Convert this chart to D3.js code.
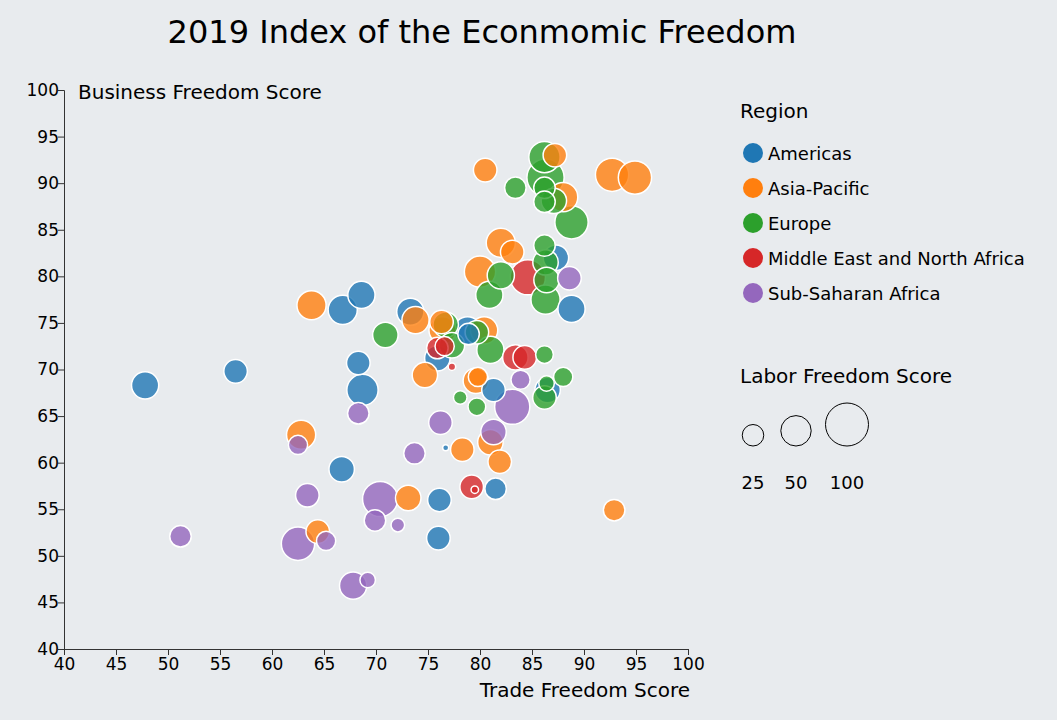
<!DOCTYPE html>
<html><head><meta charset="utf-8">
<script src="https://cdn.jsdelivr.net/npm/d3@7"></script>
<style>
body{margin:0;background:#e8ebee;font-family:"DejaVu Sans",Verdana,sans-serif;}
</style></head><body>
<svg id="chart" width="1057" height="720"></svg>
<script>
var regions = ["Americas","Asia-Pacific","Europe","Middle East and North Africa","Sub-Saharan Africa"];
// [trade, business, labor]
var americas = [[47.8,68.3,40],[56.5,69.8,30],[66.7,59.3,35],[68.6,78.0,40],[66.8,76.4,46],[68.3,70.7,30],[68.7,67.8,53],[73.3,76.2,40],[75.9,71.2,35],[76.1,56.0,30],[76.0,51.9,30],[76.7,61.6,2],[78.8,74.2,40],[78.9,73.8,25],[81.5,57.2,25],[81.3,67.8,30],[87.3,82.0,35],[88.8,76.5,40],[86.5,67.8,35]];
var asiaPacific = [[63.8,76.9,46],[62.8,63.0,46],[64.4,52.6,30],[73.1,56.2,35],[73.8,75.3,40],[74.7,69.4,35],[76.4,74.2,40],[76.3,75.1,30],[78.3,61.4,30],[79.6,68.8,35],[80.5,91.4,30],[81.0,62.2,35],[81.9,60.1,30],[82.0,83.6,46],[80.0,80.5,53],[83.1,82.6,30],[80.4,74.2,40],[79.8,69.2,20],[87.2,93.0,30],[88.0,88.5,46],[92.7,90.9,60],[94.9,90.6,60],[92.9,54.9,25]];
var europe = [[70.9,73.7,35],[76.7,74.8,35],[77.3,72.6,35],[78.1,67.0,10],[79.7,66.0,17],[81.0,72.1,40],[80.9,78.0,40],[79.7,74.0,30],[83.4,89.5,25],[86.2,92.8,53],[86.3,90.6,75],[86.2,89.5,25],[87.1,88.1,35],[86.2,88.0,25],[88.8,85.8,60],[86.2,83.3,25],[86.3,81.5,35],[86.4,79.6,35],[86.3,77.5,46],[82.0,80.1,40],[86.2,71.6,17],[88.0,69.2,20],[86.2,67.0,30],[86.4,68.5,13]];
var mena = [[75.9,72.3,25],[76.6,72.5,20],[77.3,70.3,3],[83.4,71.3,35],[84.3,71.3,30],[84.6,79.9,67],[79.2,57.4,30],[79.5,57.1,3]];
var subSaharan = [[51.2,52.1,25],[62.5,61.9,20],[63.4,56.5,30],[62.5,51.3,60],[65.2,51.6,20],[67.8,46.8,40],[69.2,47.4,13],[68.3,65.3,25],[69.9,53.8,25],[72.1,53.3,10],[70.4,56.1,67],[73.7,61.0,25],[76.2,64.3,30],[81.3,63.3,35],[83.1,66.0,67],[83.9,68.9,20],[88.6,79.8,30]];
var seriesData = [americas, asiaPacific, europe, mena, subSaharan];
var xTicks = d3.range(40, 101, 5), yTicks = d3.range(40, 101, 5);
var sizeLegend = [25, 50, 100];

var svg = d3.select("#chart");
var margin = {left: 64, top: 90, right: 1057-688, bottom: 720-649};
var x = d3.scaleLinear().domain([40,100]).range([64,688]);
var y = d3.scaleLinear().domain([40,100]).range([649,90]);
var r = d3.scaleSqrt().domain([0,100]).range([0,21.5]);
var color = d3.scaleOrdinal().domain(regions).range(d3.schemeCategory10);

svg.append("text").attr("x",482).attr("y",43).attr("text-anchor","middle")
  .style("font-size","32px").text("2019 Index of the Econmomic Freedom");

var points = [];
seriesData.forEach(function(s, i){ s.forEach(function(d){ points.push({reg: regions[i], t: d[0], b: d[1], l: d[2]}); }); });
points.sort(function(a,b){ return b.l - a.l; });

svg.append("g").selectAll("circle").data(points).enter().append("circle")
  .attr("cx", function(d){ return x(d.t); })
  .attr("cy", function(d){ return y(d.b); })
  .attr("r", function(d){ return r(d.l); })
  .attr("fill", function(d){ return color(d.reg); })
  .attr("fill-opacity", 0.8)
  .attr("stroke", "#fff").attr("stroke-width", 1.5);

var gx = svg.append("g").attr("transform","translate(0,649)")
  .call(d3.axisBottom(x).tickValues(xTicks).tickSize(6));
var gy = svg.append("g").attr("transform","translate(64,0)")
  .call(d3.axisLeft(y).tickValues(yTicks).tickSize(6));
[gx, gy].forEach(function(g){
  g.selectAll("text").style("font-size","17px").style("font-family","DejaVu Sans").attr("fill","#000");
  g.selectAll("line,path").attr("stroke","#333");
});
gy.selectAll("text").attr("x",-5);

svg.append("text").attr("x",690).attr("y",697).attr("text-anchor","end")
  .style("font-size","20px").text("Trade Freedom Score");
svg.append("text").attr("x",78).attr("y",99)
  .style("font-size","20px").text("Business Freedom Score");

var lg = svg.append("g");
lg.append("text").attr("x",740).attr("y",118).style("font-size","20px").text("Region");
regions.forEach(function(reg, i){
  lg.append("circle").attr("cx",753).attr("cy",153+i*35).attr("r",10).attr("fill",color(reg));
  lg.append("text").attr("x",768).attr("y",160+i*35).style("font-size","18px").text(reg);
});
lg.append("text").attr("x",740).attr("y",383).style("font-size","20px").text("Labor Freedom Score");
var cxs = [753, 796, 847];
sizeLegend.forEach(function(v, i){
  lg.append("circle").attr("cx",cxs[i]).attr("cy",446 - r(v)).attr("r",r(v))
    .attr("fill","none").attr("stroke","#000");
  lg.append("text").attr("x",cxs[i]).attr("y",489).attr("text-anchor","middle")
    .style("font-size","18px").text(v);
});
</script></body></html>
